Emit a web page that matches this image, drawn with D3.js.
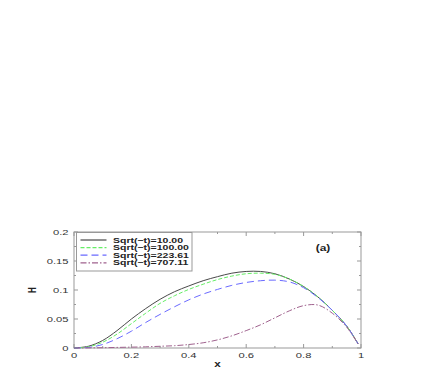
<!DOCTYPE html>
<html>
<head>
<meta charset="utf-8">
<script src="https://cdn.jsdelivr.net/npm/d3@7"></script>
<style>
  html, body { margin: 0; padding: 0; background: #fff; }
  svg { display: block; }
  text { font-family: "Liberation Sans", Arial, sans-serif; }
</style>
</head>
<body>
<div class="draw"></div>
<script>
// values
var xs = [0, 0.05, 0.1, 0.15, 0.2, 0.25, 0.3, 0.35, 0.4, 0.45, 0.5, 0.55, 0.6, 0.65, 0.7, 0.75, 0.8, 0.85, 0.9, 0.95, 0.99];
var h10 = [0, 0.003, 0.013, 0.030, 0.050, 0.068, 0.084, 0.097, 0.107, 0.116, 0.123, 0.129, 0.132, 0.132, 0.128, 0.119, 0.106, 0.088, 0.065, 0.038, 0.007];
var h100 = [0, 0.002, 0.010, 0.024, 0.042, 0.060, 0.077, 0.090, 0.101, 0.110, 0.118, 0.124, 0.128, 0.129, 0.127, 0.119, 0.106, 0.088, 0.065, 0.038, 0.007];
var h223 = [0, 0.001, 0.006, 0.016, 0.029, 0.044, 0.058, 0.071, 0.083, 0.093, 0.101, 0.108, 0.113, 0.116, 0.117, 0.114, 0.104, 0.087, 0.065, 0.038, 0.007];
var h707 = [0, 0.0002, 0.0005, 0.001, 0.0015, 0.002, 0.003, 0.004, 0.006, 0.009, 0.014, 0.021, 0.030, 0.040, 0.052, 0.064, 0.073, 0.074, 0.060, 0.036, 0.007];
var labels = ['Sqrt(\u2212t)=10.00', 'Sqrt(\u2212t)=100.00', 'Sqrt(\u2212t)=223.61', 'Sqrt(\u2212t)=707.11'];
var xTicks = [0, 0.2, 0.4, 0.6, 0.8, 1];
var yTicks = [0, 0.05, 0.1, 0.15, 0.2];
var yTickLabels = ['0', '0.05', '0.1', '0.15', '0.2'];

var series = [
  { name: labels[0], values: h10, color: '#4a4a4a', dash: null },
  { name: labels[1], values: h100, color: '#66ee66', dash: '4,2' },
  { name: labels[2], values: h223, color: '#6a6aff', dash: '7,4' },
  { name: labels[3], values: h707, color: '#a0628e', dash: '6,2,1.5,2' }
];

var W = 436, H = 382;
var m = { l: 74, r: 361, t: 232, b: 348 };

var x = d3.scaleLinear().domain([0, 1]).range([m.l, m.r]);
var y = d3.scaleLinear().domain([0, 0.2]).range([m.b, m.t]);

var svg = d3.select('.draw').append('svg')
  .attr('width', W)
  .attr('height', H);

// frame
svg.append('rect')
  .attr('x', m.l).attr('y', m.t)
  .attr('width', m.r - m.l).attr('height', m.b - m.t)
  .attr('fill', 'none')
  .attr('stroke', '#999')
  .attr('stroke-width', 1);

// inward ticks on all sides
var tickG = svg.append('g').attr('stroke', '#999').attr('stroke-width', 1);
d3.range(0, 1.0001, 0.1).forEach(function(v, i) {
  var len = i % 2 === 0 ? 4 : 2;
  tickG.append('line').attr('x1', x(v)).attr('x2', x(v)).attr('y1', m.b).attr('y2', m.b - len);
  tickG.append('line').attr('x1', x(v)).attr('x2', x(v)).attr('y1', m.t).attr('y2', m.t + len);
});
d3.range(0, 0.2001, 0.025).forEach(function(v, i) {
  var len = i % 2 === 0 ? 4 : 2;
  tickG.append('line').attr('y1', y(v)).attr('y2', y(v)).attr('x1', m.l).attr('x2', m.l + len);
  tickG.append('line').attr('y1', y(v)).attr('y2', y(v)).attr('x1', m.r).attr('x2', m.r - len);
});

// tick labels (the original text is stretched sideways)
svg.append('g').selectAll('text').data(xTicks).enter().append('text')
  .attr('transform', function(d) { return 'translate(' + x(d) + ',358) scale(1.6,1)'; })
  .attr('text-anchor', 'middle')
  .attr('font-size', 7)
  .attr('fill', '#333')
  .text(function(d) { return d3.format('')(d); });

svg.append('g').selectAll('text').data(yTicks).enter().append('text')
  .attr('transform', function(d) { return 'translate(68.5,' + (y(d) + 2.5) + ') scale(1.6,1)'; })
  .attr('text-anchor', 'end')
  .attr('font-size', 7)
  .attr('fill', '#333')
  .text(function(d, i) { return yTickLabels[i]; });

// axis titles
svg.append('text')
  .attr('transform', 'translate(' + x(0.5) + ',367) scale(1.3,1)')
  .attr('text-anchor', 'middle')
  .attr('font-size', 9)
  .attr('font-weight', 'bold')
  .attr('fill', '#222')
  .text('x');

svg.append('text')
  .attr('transform', 'translate(36,' + y(0.1) + ') scale(1.3,1) rotate(-90)')
  .attr('text-anchor', 'middle')
  .attr('font-size', 8)
  .attr('font-weight', 'bold')
  .attr('fill', '#222')
  .text('H');

svg.append('text')
  .attr('transform', 'translate(323,250.5) scale(1.4,1)')
  .attr('text-anchor', 'middle')
  .attr('font-size', 8.5)
  .attr('font-weight', 'bold')
  .attr('fill', '#222')
  .text('(a)');

// curves
var line = d3.line()
  .x(function(d, i) { return x(xs[i]); })
  .y(function(d) { return y(d); })
  .curve(d3.curveCatmullRom.alpha(0.5));

svg.append('g').selectAll('path').data(series).enter().append('path')
  .attr('d', function(d) { return line(d.values); })
  .attr('fill', 'none')
  .attr('stroke', function(d) { return d.color; })
  .attr('stroke-width', 1)
  .attr('stroke-dasharray', function(d) { return d.dash; });

// legend
var lg = svg.append('g');
lg.append('rect')
  .attr('x', 76.5).attr('y', 232.5)
  .attr('width', 115.5).attr('height', 38.5)
  .attr('fill', '#fff')
  .attr('stroke', '#999')
  .attr('stroke-width', 1);

var rows = lg.selectAll('g.row').data(series).enter().append('g')
  .attr('class', 'row')
  .attr('transform', function(d, i) { return 'translate(0,' + (240 + i * 7.6) + ')'; });
rows.append('line')
  .attr('x1', 80.5).attr('x2', 106.5)
  .attr('y1', 0).attr('y2', 0)
  .attr('stroke', function(d) { return d.color; })
  .attr('stroke-width', 1.2)
  .attr('stroke-dasharray', function(d) { return d.dash; });
rows.append('text')
  .attr('transform', 'translate(113,2.6) scale(1.42,1)')
  .attr('font-size', 7.4)
  .attr('font-weight', 'bold')
  .attr('fill', '#222')
  .text(function(d) { return d.name; });
</script>
</body>
</html>
